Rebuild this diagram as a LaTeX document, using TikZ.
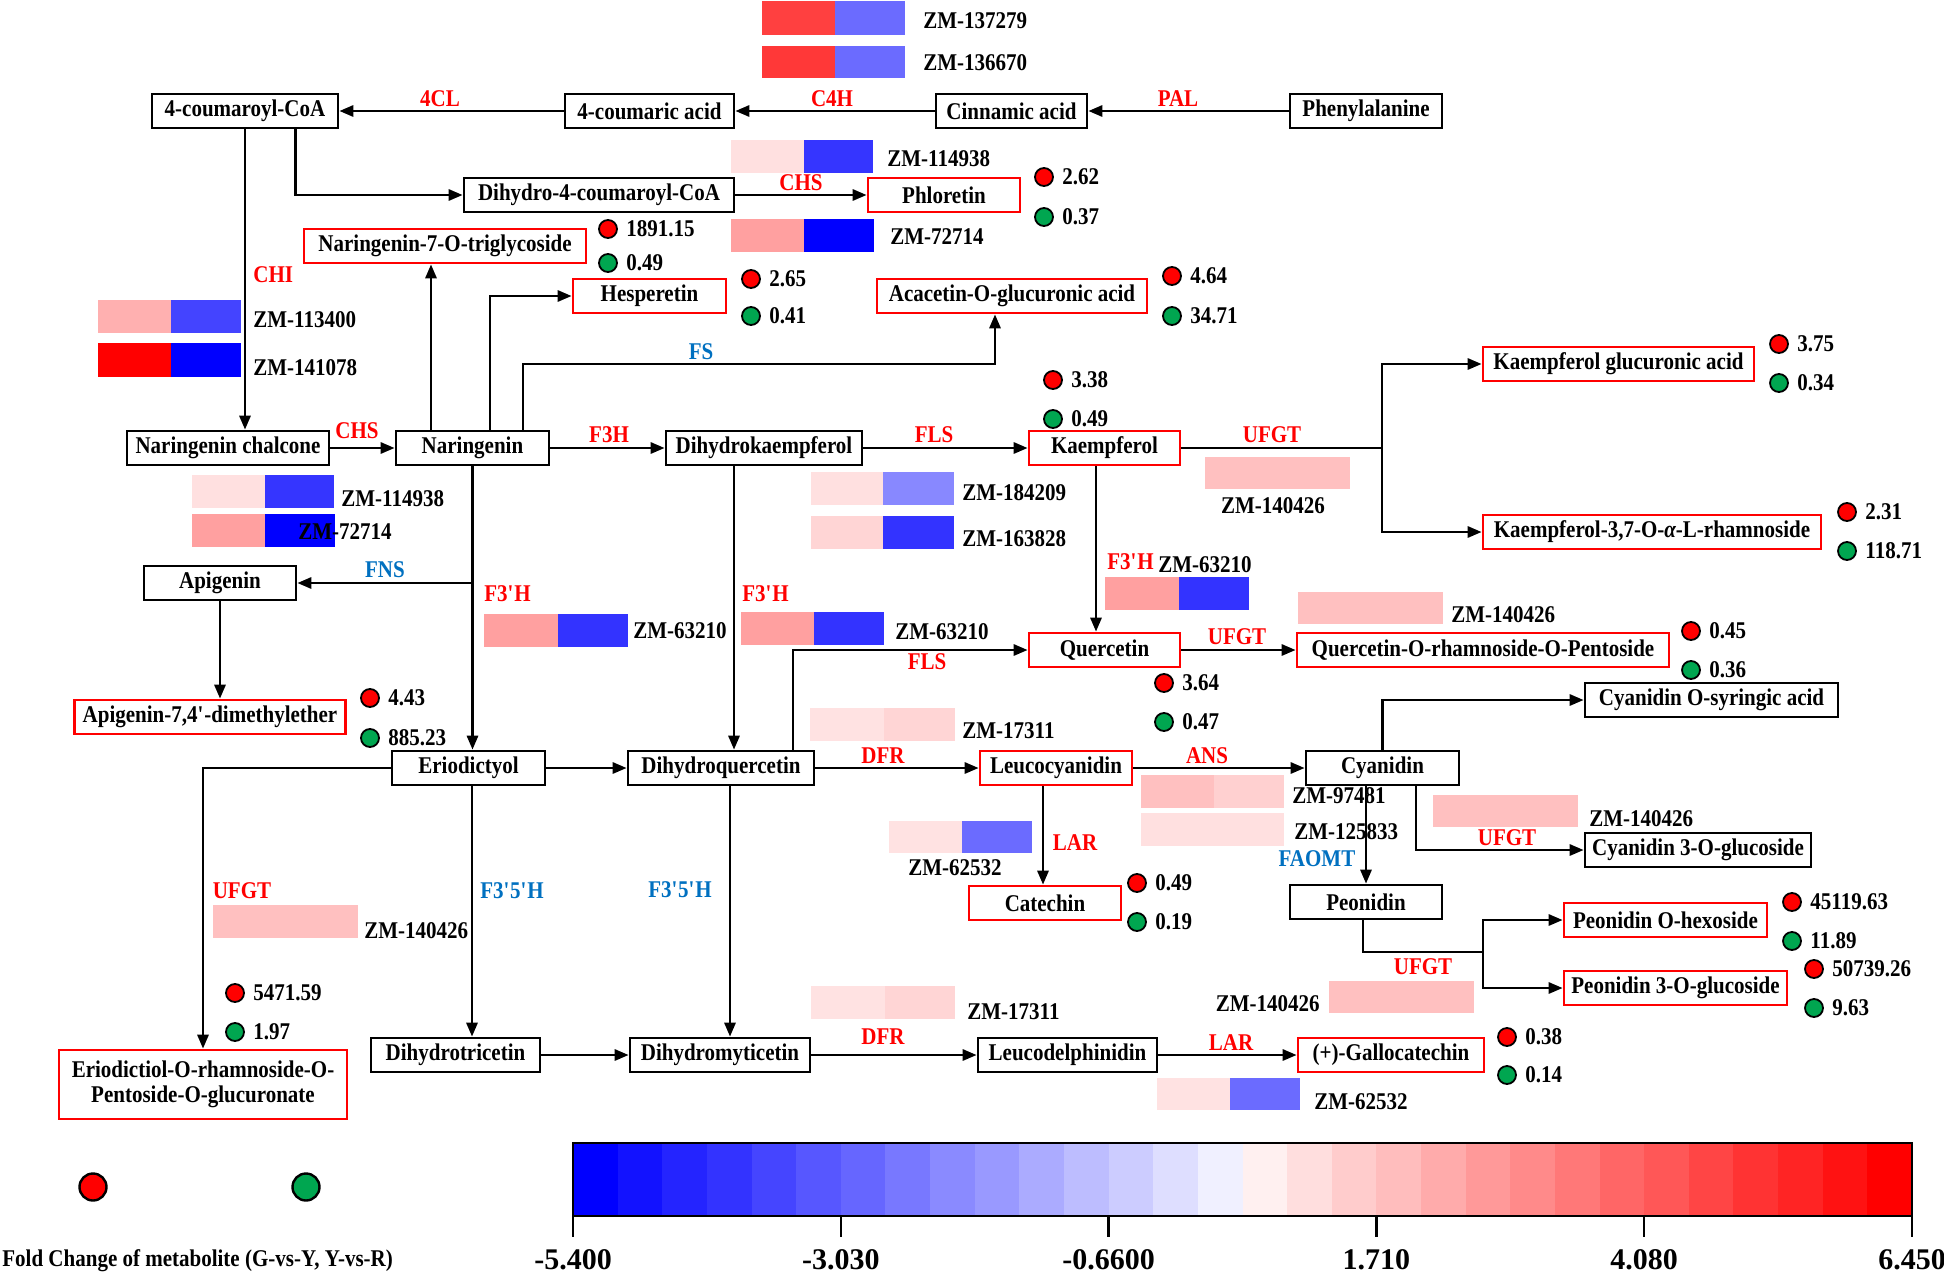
\documentclass[tikz,border=0pt]{standalone}
\usepackage{fontspec}
\setmainfont{Liberation Serif}[FakeStretch=0.875]
\newfontfamily\tickfont{Liberation Serif}
\usetikzlibrary{arrows.meta}
\definecolor{fsblue}{HTML}{0070C0}
\definecolor{dgreen}{HTML}{00A650}
\definecolor{hA}{HTML}{FF4040}
\definecolor{hB}{HTML}{6B6BFF}
\definecolor{hC}{HTML}{FF3838}
\definecolor{hD}{HTML}{FFE0E0}
\definecolor{hE}{HTML}{3535FF}
\definecolor{hF}{HTML}{FFA0A0}
\definecolor{hG}{HTML}{0000FF}
\definecolor{hH}{HTML}{FFB0B0}
\definecolor{hI}{HTML}{4444FF}
\definecolor{hJ}{HTML}{FF0000}
\definecolor{hK}{HTML}{8888FF}
\definecolor{hL}{HTML}{FFD5D5}
\definecolor{hM}{HTML}{3333FF}
\definecolor{hN}{HTML}{FFE2E2}
\definecolor{hO}{HTML}{FFC0C0}
\definecolor{hP}{HTML}{FFD0D0}
\newcommand\nf{\fontsize{12}{12.6}\selectfont\bfseries}
\newcommand\bigf{\tickfont\fontsize{15}{17}\selectfont\bfseries}
\newcommand\q{\textquotesingle}
\newcommand\heatbar[7]{\fill[#6] (#1,#4) rectangle (#2,#5); \fill[#7] (#2,#4) rectangle (#3,#5);}
\newcommand\dotpair[6]{%
  \node[rdot] (#1r) at (#2,#3) {};
  \node[lab,anchor=west] (#1rt) at ([xshift=9pt]#1r.center) {#5};
  \node[gdot] (#1g) at (#2,#4) {};
  \node[lab,anchor=west] (#1gt) at ([xshift=9pt]#1g.center) {#6};}
\tikzset{
  bx/.style={draw=black, line width=1.4pt, rectangle, inner sep=0pt, minimum height=17pt, font=\nf, align=center},
  rbx/.style={bx, draw=red},
  ln/.style={line width=1.25pt, draw=black},
  ar/.style={ln, -{Triangle[length=7pt,width=5.6pt]}},
  enz/.style={font=\nf, text=red, inner sep=0pt},
  enzb/.style={font=\nf, text=fsblue, inner sep=0pt},
  lab/.style={font=\nf, inner sep=0pt},
  rdot/.style={circle, draw=black, line width=0.9pt, fill=red, minimum size=9pt, inner sep=0pt},
  gdot/.style={rdot, fill=dgreen},
}
\begin{document}
\begin{tikzpicture}[x=0.5pt,y=-0.5pt]
\useasboundingbox (0,0) rectangle (1944,1274);
% ---------- heat bars ----------
\heatbar{762}{835}{905}{1}{35}{hA}{hB}
\node[lab,anchor=west] (z1) at (923,21) {ZM-137279};
\heatbar{762}{835}{905}{46}{78}{hC}{hB}
\node[lab,anchor=west] (z2) at (923,63) {ZM-136670};
\heatbar{731}{804}{873}{140}{173}{hD}{hE}
\node[lab,anchor=west] (z3) at (887,159) {ZM-114938};
\heatbar{731}{804}{874}{219}{252}{hF}{hG}
\node[lab,anchor=west] (z4) at (890,237) {ZM-72714};
\heatbar{98}{171}{241}{300}{333}{hH}{hI}
\node[lab,anchor=west] (z5) at (253,320) {ZM-113400};
\heatbar{98}{171}{241}{343}{377}{hJ}{hG}
\node[lab,anchor=west] (z6) at (253,368) {ZM-141078};
\heatbar{192}{265}{334}{475}{508}{hD}{hE}
\node[lab,anchor=west] (z7) at (341,499) {ZM-114938};
\heatbar{192}{265}{335}{514}{547}{hF}{hG}
\node[lab,anchor=west] (z8) at (298,532) {ZM-72714};
\heatbar{484}{558}{628}{614}{647}{hF}{hM}
\node[lab,anchor=west] (z9) at (633,631) {ZM-63210};
\heatbar{811}{883}{954}{472}{505}{hD}{hK}
\node[lab,anchor=west] (z10) at (962,493) {ZM-184209};
\heatbar{811}{883}{954}{516}{549}{hL}{hM}
\node[lab,anchor=west] (z11) at (962,539) {ZM-163828};
\heatbar{741}{814}{884}{612}{645}{hF}{hM}
\node[lab,anchor=west] (z12) at (895,632) {ZM-63210};
\heatbar{1105}{1179}{1249}{577}{610}{hF}{hM}
\node[lab,anchor=west] (z13) at (1158,565) {ZM-63210};
\heatbar{1205}{1278}{1350}{457}{489}{hO}{hO}
\node[lab] (z14) at (1273,506) {ZM-140426};
\heatbar{1298}{1370}{1443}{592}{624}{hO}{hO}
\node[lab,anchor=west] (z15) at (1451,615) {ZM-140426};
\heatbar{810}{884}{955}{708}{741}{hN}{hL}
\node[lab,anchor=west] (z16) at (962,731) {ZM-17311};
\heatbar{1141}{1214}{1284}{775}{808}{hO}{hP}
\node[lab,anchor=west] (z17) at (1292,796) {ZM-97481};
\heatbar{1141}{1214}{1284}{813}{846}{hD}{hD}
\node[lab,anchor=west] (z18) at (1294,832) {ZM-125833};
\heatbar{1433}{1505}{1578}{795}{827}{hO}{hO}
\node[lab,anchor=west] (z19) at (1589,819) {ZM-140426};
\heatbar{889}{962}{1032}{821}{853}{hN}{hB}
\node[lab] (z20) at (955,868) {ZM-62532};
\heatbar{213}{285}{358}{905}{938}{hO}{hO}
\node[lab,anchor=west] (z21) at (364,931) {ZM-140426};
\heatbar{811}{885}{955}{986}{1019}{hN}{hL}
\node[lab,anchor=west] (z22) at (967,1012) {ZM-17311};
\heatbar{1329}{1401}{1474}{981}{1013}{hO}{hO}
\node[lab,anchor=east] (z23) at (1320,1004) {ZM-140426};
\heatbar{1157}{1230}{1300}{1078}{1110}{hN}{hB}
\node[lab,anchor=west] (z24) at (1314,1102) {ZM-62532};
% ---------- nodes ----------
\node[bx, minimum width=93pt] (coa) at (245,111) {4-coumaroyl-CoA};
\node[bx, minimum width=84.5pt] (cou) at (649.5,111) {4-coumaric acid};
\node[bx, minimum width=75.5pt] (cin) at (1011.5,111) {Cinnamic acid};
\node[bx, minimum width=76pt] (phe) at (1366,111) {Phenylalanine};
\node[bx, minimum width=135pt] (dhc) at (599,195) {Dihydro-4-coumaroyl-CoA};
\node[rbx, minimum width=76pt] (phl) at (944,195) {Phloretin};
\node[rbx, minimum width=141pt] (n7o) at (445,246) {Naringenin-7-O-triglycoside};
\node[rbx, minimum width=76.5pt] (hes) at (649.5,296) {Hesperetin};
\node[rbx, minimum width=135pt] (aca) at (1012,296) {Acacetin-O-glucuronic acid};
\node[bx, minimum width=101pt] (nch) at (228,448) {Naringenin chalcone};
\node[bx, minimum width=76.5pt] (nar) at (472.5,448) {Naringenin};
\node[bx, minimum width=98pt] (dhk) at (764,448) {Dihydrokaempferol};
\node[rbx, minimum width=75.5pt] (kae) at (1104.5,448) {Kaempferol};
\node[rbx, minimum width=135.5pt] (kga) at (1618.5,364) {Kaempferol glucuronic acid};
\node[rbx, minimum width=169pt] (krh) at (1652,532) {Kaempferol-3,7-O-{\itshape α}-L-rhamnoside};
\node[bx, minimum width=76pt] (api) at (220,583) {Apigenin};
\node[rbx, minimum width=135.5pt] (adm) at (210,717) {Apigenin-7,4\q-dimethylether};
\node[rbx, minimum width=75.5pt] (que) at (1104.5,650) {Quercetin};
\node[rbx, minimum width=186pt] (qrp) at (1483,650) {Quercetin-O-rhamnoside-O-Pentoside};
\node[bx, minimum width=126.5pt] (cys) at (1711.5,700) {Cyanidin O-syringic acid};
\node[bx, minimum width=76.5pt] (eri) at (468.5,768) {Eriodictyol};
\node[bx, minimum width=93pt] (dhq) at (721,768) {Dihydroquercetin};
\node[rbx, minimum width=76pt] (leu) at (1056,768) {Leucocyanidin};
\node[bx, minimum width=76.5pt] (cya) at (1382.5,768) {Cyanidin};
\node[bx, minimum width=113pt] (c3g) at (1698,850) {Cyanidin 3-O-glucoside};
\node[rbx, minimum width=76pt] (cat) at (1045,903) {Catechin};
\node[bx, minimum width=76pt] (peo) at (1366,902) {Peonidin};
\node[rbx, minimum width=101.5pt] (poh) at (1665.5,920) {Peonidin O-hexoside};
\node[rbx, minimum width=111.5pt] (p3g) at (1675.5,988) {Peonidin 3-O-glucoside};
\node[rbx, minimum width=144pt, minimum height=34.5pt] (erg) at (203,1084.5) {Eriodictiol-O-rhamnoside-O-\\Pentoside-O-glucuronate};
\node[bx, minimum width=84.5pt] (dht) at (455.5,1055) {Dihydrotricetin};
\node[bx, minimum width=90pt] (dhm) at (720,1055) {Dihydromyticetin};
\node[bx, minimum width=89.5pt] (lde) at (1067.5,1055) {Leucodelphinidin};
\node[rbx, minimum width=93pt] (gal) at (1391,1055) {(+)-Gallocatechin};
% ---------- connectors ----------
\draw[ar] (cou.west) -- (coa.east);
\draw[ar] (cin.west) -- (cou.east);
\draw[ar] (phe.west) -- (cin.east);
\draw[ar] (coa.south) -- (coa.south |- nch.north);
\draw[ar] ([xshift=25.25pt]coa.south) |- (dhc.west);
\draw[ar] (dhc.east) -- (phl.west);
\draw[ar] (nch.east) -- (nar.west);
\draw[ar] ([xshift=-20.75pt]nar.north) -- ([xshift=-20.75pt]nar.north |- n7o.south);
\draw[ar] ([xshift=8.75pt]nar.north) |- (hes.west);
\coordinate (fsc) at (995,364);
\draw[ar] ([xshift=25.25pt]nar.north) |- (fsc) -- (fsc |- aca.south);
\draw[ar] (nar.east) -- (dhk.west);
\draw[ar] (dhk.east) -- (kae.west);
\coordinate (kbr) at (1382,448);
\draw[ln] (kae.east) -- (kbr);
\draw[ar] (kbr) |- (kga.west);
\draw[ar] (kbr) |- (krh.west);
\draw[ar] (nar.south) -- (nar.south |- eri.north);
\coordinate (fnsc) at (472.5,583);
\draw[ar] (fnsc) -- (api.east);
\draw[ar] (api.south) -- (api.south |- adm.north);
\draw[ar] ([xshift=-15pt]dhk.south) -- ([xshift=-15pt]dhk.south |- dhq.north);
\draw[ar] ([xshift=-4.25pt]kae.south) -- ([xshift=-4.25pt]kae.south |- que.north);
\draw[ar] ([xshift=36pt]dhq.north) |- (que.west);
\draw[ar] (que.east) -- (qrp.west);
\draw[ar] (eri.west) -| (erg.north);
\draw[ar] (eri.east) -- (dhq.west);
\draw[ar] ([xshift=1.75pt]eri.south) -- ([xshift=1.75pt]eri.south |- dht.north);
\draw[ar] (dhq.east) -- (leu.west);
\draw[ar] ([xshift=4.5pt]dhq.south) -- ([xshift=4.5pt]dhq.south |- dhm.north);
\draw[ar] (leu.east) -- (cya.west);
\draw[ar] ([xshift=-6.5pt]leu.south) -- ([xshift=-6.5pt]leu.south |- cat.north);
\draw[ar] (cya.north) |- (cys.west);
\draw[ar] ([xshift=-8.25pt]cya.south) -- ([xshift=-8.25pt]cya.south |- peo.north);
\draw[ar] ([xshift=16.75pt]cya.south) |- (c3g.west);
\coordinate (pbr) at (1483,952);
\draw[ln] ([xshift=-1.5pt]peo.south) |- (pbr);
\draw[ar] (pbr) |- (poh.west);
\draw[ar] (pbr) |- (p3g.west);
\draw[ar] (dht.east) -- (dhm.west);
\draw[ar] (dhm.east) -- (lde.west);
\draw[ar] (lde.east) -- (gal.west);
% ---------- enzyme labels ----------
\node[enz] (e1) at (440,99) {4CL};
\node[enz] (e2) at (832,99) {C4H};
\node[enz] (e3) at (1178,99) {PAL};
\node[enz] (e4) at (801,183) {CHS};
\node[enz,anchor=west] (e5) at (253,275) {CHI};
\node[enz] (e6) at (357,431) {CHS};
\node[enz] (e7) at (609,435) {F3H};
\node[enzb] (e8) at (701,352) {FS};
\node[enz] (e9) at (934,435) {FLS};
\node[enz] (e10) at (1272,435) {UFGT};
\node[enzb] (e11) at (385,570) {FNS};
\node[enz,anchor=west] (e12) at (484,594) {F3\q H};
\node[enz,anchor=west] (e13) at (742,594) {F3\q H};
\node[enz,anchor=west] (e14) at (1107,562) {F3\q H};
\node[enz] (e15) at (927,662) {FLS};
\node[enz] (e16) at (1237,637) {UFGT};
\node[enz] (e17) at (883,756) {DFR};
\node[enz] (e18) at (1207,756) {ANS};
\node[enz] (e19) at (1075,843) {LAR};
\node[enzb] (e20) at (1317,859) {FAOMT};
\node[enz] (e21) at (1507,838) {UFGT};
\node[enz] (e22) at (242,891) {UFGT};
\node[enzb] (e23) at (512,891) {F3\q 5\q H};
\node[enzb] (e24) at (680,890) {F3\q 5\q H};
\node[enz] (e25) at (1423,967) {UFGT};
\node[enz] (e26) at (883,1037) {DFR};
\node[enz] (e27) at (1231,1043) {LAR};
% ---------- dots ----------
\dotpair{da}{608}{229}{263}{1891.15}{0.49}
\dotpair{db}{1044}{177}{217}{2.62}{0.37}
\dotpair{dc}{751}{279}{316}{2.65}{0.41}
\dotpair{dd}{1172}{276}{316}{4.64}{34.71}
\dotpair{de}{1053}{380}{419}{3.38}{0.49}
\dotpair{df}{1779}{344}{383}{3.75}{0.34}
\dotpair{dg}{1847}{512}{551}{2.31}{118.71}
\dotpair{dh}{370}{698}{738}{4.43}{885.23}
\dotpair{di}{1691}{631}{670}{0.45}{0.36}
\dotpair{dj}{1164}{683}{722}{3.64}{0.47}
\dotpair{dk}{1137}{883}{922}{0.49}{0.19}
\dotpair{dl}{1792}{902}{941}{45119.63}{11.89}
\dotpair{dm}{1814}{969}{1008}{50739.26}{9.63}
\dotpair{dn}{235}{993}{1032}{5471.59}{1.97}
\dotpair{do}{1507}{1037}{1075}{0.38}{0.14}
% ---------- legend ----------
\node[rdot, minimum size=13.5pt, line width=1.2pt] (lgr) at (93,1187) {};
\node[gdot, minimum size=13.5pt, line width=1.2pt] (lgg) at (306,1187) {};
\node[lab,anchor=west] (lgt) at (2,1261) {Fold Change of metabolite (G-vs-Y, Y-vs-R)};
\foreach \i in {0,...,29}{
  \pgfmathsetmacro\xa{573+\i*44.6333}
  \pgfmathsetmacro\xb{573+(\i+1)*44.6333+0.5}
  \ifnum\i<15
    \pgfmathtruncatemacro\pc{100-\i*100/15}
    \fill[blue!\pc!white] (\xa,1143) rectangle (\xb,1216);
  \else
    \pgfmathtruncatemacro\pc{(\i-14)*100/15}
    \fill[red!\pc!white] (\xa,1143) rectangle (\xb,1216);
  \fi
}
\draw[line width=1.3pt] (573,1143) rectangle (1912,1216);
\foreach \v/\t [count=\k from 0] in {-5.400/a,-3.030/b,-0.6600/c,1.710/d,4.080/e,6.450/f}{
  \pgfmathsetmacro\xt{573+\k*267.8}
  \draw[line width=1.2pt] (\xt,1216) -- (\xt,1237);
  \node[font=\bigf, inner sep=0pt] (tick\t) at (\xt,1260) {\v};
}
\end{tikzpicture}
\end{document}
